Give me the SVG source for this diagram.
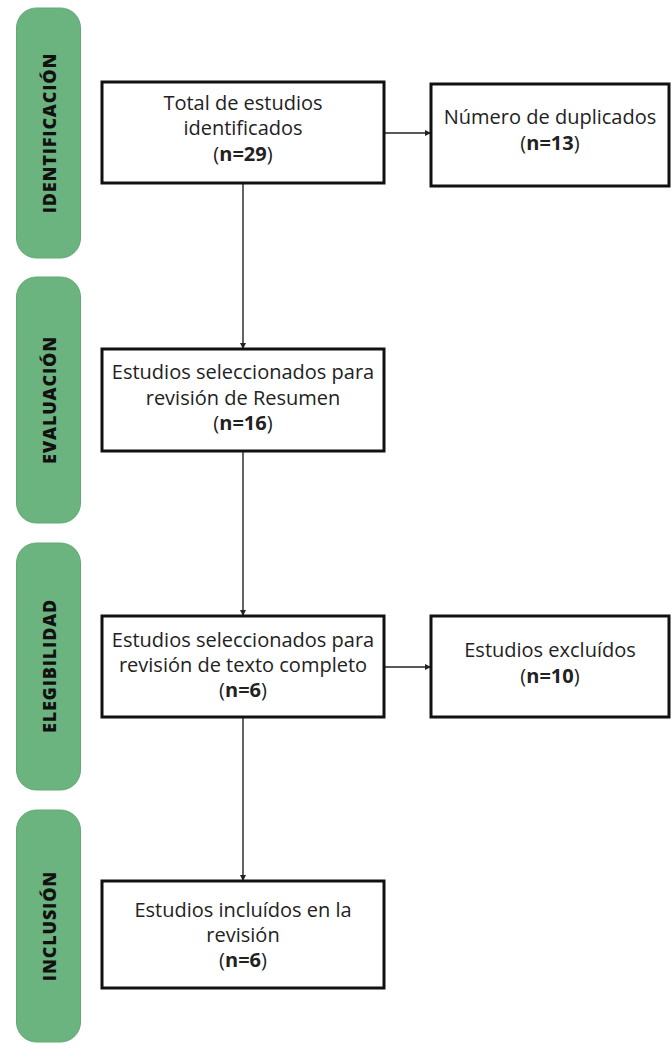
<svg xmlns="http://www.w3.org/2000/svg" width="672" height="1051" viewBox="0 0 672 1051">
<style>
.bar{fill:#6cb47f;stroke:#62a874;stroke-width:1}
.lab{font-family:"Open Sans","Noto Sans",sans-serif;font-weight:800;font-size:18px;letter-spacing:0.8px;fill:#111;text-anchor:middle}
.box{fill:#fff;stroke:#111;stroke-width:3}
.t{font-family:"Open Sans","Noto Sans",sans-serif;font-size:20px;fill:#222;text-anchor:middle}
.b{font-weight:bold}
.con{stroke:#222;stroke-width:1.4;fill:none;marker-end:url(#ah)}
</style>
<defs>
<marker id="ah" viewBox="0 0 10 10" refX="10" refY="5" markerWidth="6" markerHeight="6" markerUnits="userSpaceOnUse" orient="auto">
<path d="M0,0 L10,5 L0,10 z" fill="#222"/>
</marker>
</defs>
<rect width="672" height="1051" fill="#fff"/>
<g id="phase-identificacion">
<rect class="bar" x="16.5" y="8" width="64" height="250" rx="20"/>
<text class="lab" transform="translate(55.5,133) rotate(-90)">IDENTIFICACIÓN</text>
</g>
<g id="phase-evaluacion">
<rect class="bar" x="16.5" y="277" width="64" height="246" rx="20"/>
<text class="lab" transform="translate(55.5,400) rotate(-90)">EVALUACIÓN</text>
</g>
<g id="phase-elegibilidad">
<rect class="bar" x="16.5" y="543" width="64" height="247" rx="20"/>
<text class="lab" transform="translate(55.5,666) rotate(-90)">ELEGIBILIDAD</text>
</g>
<g id="phase-inclusion">
<rect class="bar" x="16.5" y="810" width="64" height="232" rx="20"/>
<text class="lab" transform="translate(55.5,926) rotate(-90)">INCLUSIÓN</text>
</g>
<g id="connectors">
<line class="con" x1="243" y1="183" x2="243" y2="349"/>
<line class="con" x1="243" y1="451" x2="243" y2="616"/>
<line class="con" x1="243" y1="717" x2="243" y2="881"/>
<line class="con" x1="384" y1="133" x2="431" y2="133"/>
<line class="con" x1="384" y1="667" x2="431" y2="667"/>
</g>
<g id="n-total">
<rect class="box" x="102" y="82" width="282" height="101"/>
<text class="t" x="243" y="110">Total de estudios</text>
<text class="t" x="243" y="135">identificados</text>
<text class="t" x="243" y="161">(<tspan class="b">n=29</tspan>)</text>
</g>
<g id="n-duplicados">
<rect class="box" x="431" y="84" width="238" height="102"/>
<text class="t" x="550" y="124">Número de duplicados</text>
<text class="t" x="550" y="150">(<tspan class="b">n=13</tspan>)</text>
</g>
<g id="n-resumen">
<rect class="box" x="102" y="349" width="282" height="102"/>
<text class="t" x="243" y="379">Estudios seleccionados para</text>
<text class="t" x="243" y="405">revisión de Resumen</text>
<text class="t" x="243" y="430">(<tspan class="b">n=16</tspan>)</text>
</g>
<g id="n-texto">
<rect class="box" x="102" y="616" width="282" height="101"/>
<text class="t" x="243" y="647">Estudios seleccionados para</text>
<text class="t" x="243" y="672">revisión de texto completo</text>
<text class="t" x="243" y="697">(<tspan class="b">n=6</tspan>)</text>
</g>
<g id="n-excluidos">
<rect class="box" x="431" y="616" width="238" height="101"/>
<text class="t" x="550" y="657">Estudios excluídos</text>
<text class="t" x="550" y="683">(<tspan class="b">n=10</tspan>)</text>
</g>
<g id="n-incluidos">
<rect class="box" x="102" y="881" width="282" height="107"/>
<text class="t" x="243" y="917">Estudios incluídos en la</text>
<text class="t" x="243" y="942">revisión</text>
<text class="t" x="243" y="967">(<tspan class="b">n=6</tspan>)</text>
</g>
</svg>
